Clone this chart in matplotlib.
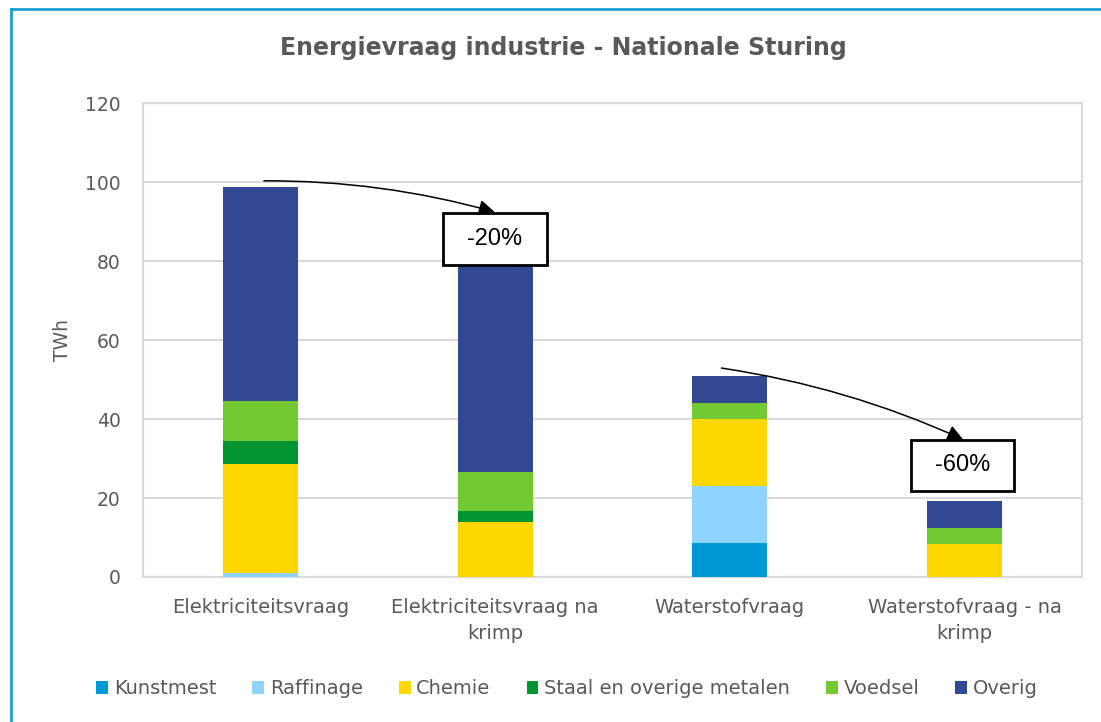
import matplotlib.pyplot as plt
from matplotlib.patches import Rectangle, Patch
from matplotlib.lines import Line2D
import numpy as np

categories = ['Elektriciteitsvraag', 'Elektriciteitsvraag na\nkrimp',
              'Waterstofvraag', 'Waterstofvraag - na\nkrimp']
series = ['Kunstmest', 'Raffinage', 'Chemie', 'Staal en overige metalen',
          'Voedsel', 'Overig']
kunstmest = [0.0, 0.0, 8.5, 0.0]
raffinage = [1.0, 0.0, 14.6, 0.0]
chemie = [27.7, 13.9, 17.0, 8.4]
staal = [5.7, 2.8, 0.0, 0.0]
voedsel = [10.2, 10.0, 4.0, 3.9]
overig = [54.1, 52.3, 6.9, 6.9]
changes = ['-20%', '-60%']

colors = ['#0099d6', '#8fd3ff', '#ffd700', '#009530', '#72c931', '#334893']
txt = '#595959'
grid = '#d9d9d9'

fig = plt.figure(figsize=(11.01, 7.22), dpi=100)
ax = fig.add_axes([143 / 1101, 145 / 722, 939 / 1101, 474 / 722])

x = np.arange(len(categories))
bottom = np.zeros(len(categories))
for vals, c, name in zip([kunstmest, raffinage, chemie, staal, voedsel, overig], colors, series):
    ax.bar(x, vals, 0.32, bottom=bottom, color=c, label=name, zorder=3)
    bottom += np.array(vals)

ax.set_xlim(-0.5, 3.5)
ax.set_ylim(0, 120)
ax.set_yticks(range(0, 121, 20))
ax.set_xticks(x)
ax.set_xticklabels(categories, fontsize=14, color=txt, linespacing=1.45)
ax.tick_params(axis='y', labelsize=13.5, colors=txt, length=0, pad=16)
ax.tick_params(axis='x', length=0, pad=15)
ax.grid(axis='y', color=grid, lw=1.5, zorder=0)
for s in ax.spines.values():
    s.set_color(grid)
    s.set_linewidth(1.5)

# percentage boxes and curved arrows
boxes = [(0.777, 79.0, 0.442, 13.2), (2.772, 21.8, 0.439, 12.9)]
arrows = [((0.015, 100.3), (0.998, 92.4)), ((1.964, 52.9), (2.994, 34.8))]
for (bx, by, bw, bh), lab, (p0, p1) in zip(boxes, changes, arrows):
    ax.add_patch(Rectangle((bx, by), bw, bh, facecolor='white', edgecolor='black',
                           lw=2, zorder=5))
    ax.text(bx + bw / 2, by + bh / 2, lab, ha='center', va='center',
            fontsize=17, color='black', zorder=6, family='Liberation Sans')
    ax.annotate('', xy=p1, xytext=p0, zorder=6,
                arrowprops=dict(arrowstyle='-|>', color='black', lw=1.1,
                                mutation_scale=24, shrinkA=0, shrinkB=0,
                                connectionstyle='arc3,rad=-0.07'))

fig.text(0.512, 0.9335, 'Energievraag industrie - Nationale Sturing',
         ha='center', va='center', fontsize=17, fontweight='bold', color=txt)
fig.text(0.057, 0.529, 'TWh', rotation=90, ha='center', va='center',
         fontsize=13.5, color=txt)

handles = [Patch(facecolor=c, edgecolor='none') for c in colors]
fig.legend(handles, series, loc='center', bbox_to_anchor=(0.515, 0.046),
           ncol=6, frameon=False, fontsize=14, labelcolor=txt,
           handlelength=0.6, handleheight=0.6, handletextpad=0.3,
           columnspacing=1.85)

# blue frame at top and left
fig.add_artist(Line2D([11 / 1101, 1], [1 - 9 / 722, 1 - 9 / 722], color='#1e9ed9', lw=2))
fig.add_artist(Line2D([11 / 1101, 11 / 1101], [0, 1 - 9 / 722], color='#1e9ed9', lw=2))

fig.savefig('out.png', dpi=100)
